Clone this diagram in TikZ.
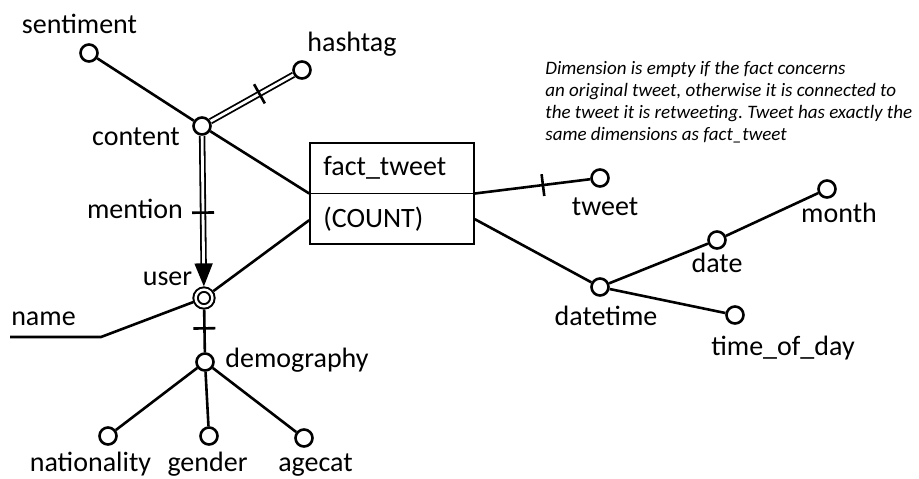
\documentclass[tikz,border=0pt]{standalone}
\usepackage{fontspec}
\setmainfont{Carlito}
\usetikzlibrary{arrows.meta,decorations.markings,calc}
\tikzset{
  attr/.style={circle, draw, line width=1.3pt, fill=white,
    minimum size=8.5pt, inner sep=0pt},
  userattr/.style={circle, draw, line width=1pt, double, double distance=1.2pt,
    minimum size=8.4pt, inner sep=0pt, outer sep=1.6pt},
  factbox/.style={draw, line width=0.8pt, minimum width=82pt,
    minimum height=50.5pt, inner sep=0pt},
  lbl/.style={font=\fontsize{14}{16}\selectfont, inner sep=0pt, anchor=base},
  link/.style={line width=1.3pt},
  dbllink/.style={double, line width=0.9pt, double distance=1.4pt},
  tickat/.style={postaction={decorate, decoration={markings,
    mark=at position #1 with {\draw[arrows=-, line width=1.3pt] (0,-5.5pt) -- (0,5.5pt);}}}},
}
\begin{document}
\begin{tikzpicture}[x=0.5pt, y=-0.5pt]
  \useasboundingbox (0,0) rectangle (919,478);

  %% ---- fact ----
  \node[factbox] (fact) at (392,193.5) {};
  \draw[line width=0.8pt] (fact.west) -- (fact.east);
  \node[lbl, anchor=base west] (factname) at (323,175) {fact\_tweet};
  \node[lbl, anchor=base west] (measure) at (323,227) {(COUNT)};

  %% ---- user / content dimensions ----
  \node[attr] (sentiment) at (89,53) {};
  \node[attr] (hashtag) at (302,70) {};
  \node[attr] (content) at (202,126) {};
  \node[userattr] (user) at (204,298) {};
  \node[attr] (demography) at (205,362) {};
  \node[attr] (nationality) at (108,436) {};
  \node[attr] (gender) at (209,436) {};
  \node[attr] (agecat) at (304,438) {};
  \coordinate (namebend) at (101,337);
  \coordinate (nameend) at (10,337);

  %% ---- tweet / time dimensions ----
  \node[attr] (tweet) at (600,178) {};
  \node[attr] (datetime) at (600,287) {};
  \node[attr] (date) at (717,240) {};
  \node[attr] (month) at (827,189) {};
  \node[attr] (timeofday) at (735,315) {};

  %% ---- connectors ----
  \draw[link] (sentiment) -- (content);
  \draw[dbllink, tickat=0.59] (content) -- (hashtag);
  \draw[link] (content) -- (fact.west);
  \draw[dbllink, tickat=0.51, -{Triangle[length=11.5pt,width=9pt]}] (content) -- (user);
  \draw[link] (user) -- ($(fact.west)!0.52!(fact.south west)$);
  \draw[link] (user) -- (namebend) -- (nameend);
  \draw[link, tickat=0.44] (user) -- (demography);
  \foreach \leaf in {nationality, gender, agecat}
    \draw[link] (demography) -- (\leaf);
  \draw[link, tickat=0.59] (fact.east) -- (tweet);
  \draw[link] ($(fact.east)!0.5!(fact.south east)$) -- (datetime);
  \draw[link] (datetime) -- (date) -- (month);
  \draw[link] (datetime) -- (timeofday);

  %% ---- labels ----
  \foreach \px/\py/\nm/\lbl in {79.5/33/sentiment-l/sentiment, 352/51/hashtag-l/hashtag,
      136/145/content-l/content, 135/218/mention-l/mention, 167.5/285/user-l/user,
      43.5/325/name-l/name, 297/367/demography-l/demography,
      90.5/471/nationality-l/nationality, 207.5/471/gender-l/gender,
      315.5/471/agecat-l/agecat, 605/215/tweet-l/tweet, 606/325/datetime-l/datetime,
      717/272/date-l/date, 839/222/month-l/month, 783/355/timeofday-l/{time\_of\_day}}{
    \node[lbl] (\nm) at (\px,\py) {\lbl};}

  \node[anchor=base west, align=left, inner sep=0pt,
        font=\fontsize{9.5}{11}\selectfont\itshape] (note) at (545,140)
       {Dimension is empty if the fact concerns\\
        an original tweet, otherwise it is connected to\\
        the tweet it is retweeting.\ Tweet has exactly the\\
        same dimensions as fact\_tweet};
\end{tikzpicture}
\end{document}
